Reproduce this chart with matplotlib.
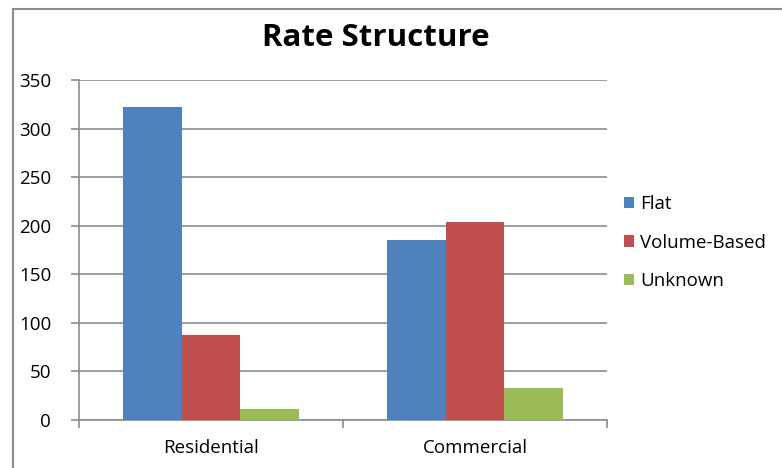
import matplotlib
matplotlib.use("Agg")
import matplotlib.pyplot as plt
import numpy as np
from matplotlib.lines import Line2D
from matplotlib.patches import Patch

categories = ["Residential", "Commercial"]
series = ["Flat", "Volume-Based", "Unknown"]
flat = [322, 185]
volume = [87, 204]
unknown = [11, 33]
colors = ["#4F81BD", "#C0504D", "#9BBB59"]
yticks = [0, 50, 100, 150, 200, 250, 300, 350]

plt.rcParams['font.family'] = ['Open Sans', 'DejaVu Sans']

W, H = 782, 468
fig = plt.figure(figsize=(W / 100, H / 100), dpi=100)
ax = fig.add_axes([79 / W, 1 - 420 / H, (607 - 79) / W, (420 - 80) / H])

x = np.arange(len(categories))
bw = 0.223
for i, (vals, c) in enumerate(zip([flat, volume, unknown], colors)):
    ax.bar(x + (i - 1) * bw, vals, width=bw, color=c, label=series[i], zorder=3)

ax.set_xlim(-0.5, 1.5)
ax.set_ylim(0, 350)
ax.set_yticks(yticks)
ax.set_yticklabels([str(v) for v in yticks], fontsize=13.5)
ax.yaxis.grid(True, color="#8c8c8c", linewidth=1.2, zorder=0)
ax.set_xticks([-0.5, 0.5, 1.5], minor=False)
ax.set_xticklabels(["", "", ""])
ax.set_xticks(x, minor=True)
ax.set_xticklabels(categories, minor=True, fontsize=13.5)
ax.tick_params(axis='x', which='minor', length=0, pad=14)
ax.tick_params(axis='x', which='major', length=6, color="#8c8c8c", width=1.2)
ax.tick_params(axis='y', length=6, color="#8c8c8c", width=1.2, pad=14)
for s in ["top", "right"]:
    ax.spines[s].set_visible(False)
for s in ["left", "bottom"]:
    ax.spines[s].set_color("#8c8c8c")
    ax.spines[s].set_linewidth(1.2)

fig.text(376 / W, 1 - 38 / H, "Rate Structure", fontsize=22.5, fontweight='bold',
         ha='center', va='center')

handles = [Patch(facecolor=c, edgecolor='none') for c in colors]
fig.legend(handles, series, loc='upper left', bbox_to_anchor=(607 / W, 1 - 178 / H),
           frameon=False, fontsize=13.5, handlelength=0.55, handleheight=0.55,
           handletextpad=0.3, labelspacing=1.1)

# outer chart border (left and top edges visible)
fig.add_artist(Line2D([12.5 / W, 12.5 / W], [0, 1 - 9 / H], transform=fig.transFigure,
                      color="#8c8c8c", linewidth=1.5))
fig.add_artist(Line2D([12.5 / W, 1], [1 - 9 / H, 1 - 9 / H], transform=fig.transFigure,
                      color="#8c8c8c", linewidth=1.5))

fig.savefig("out.png", dpi=100)
